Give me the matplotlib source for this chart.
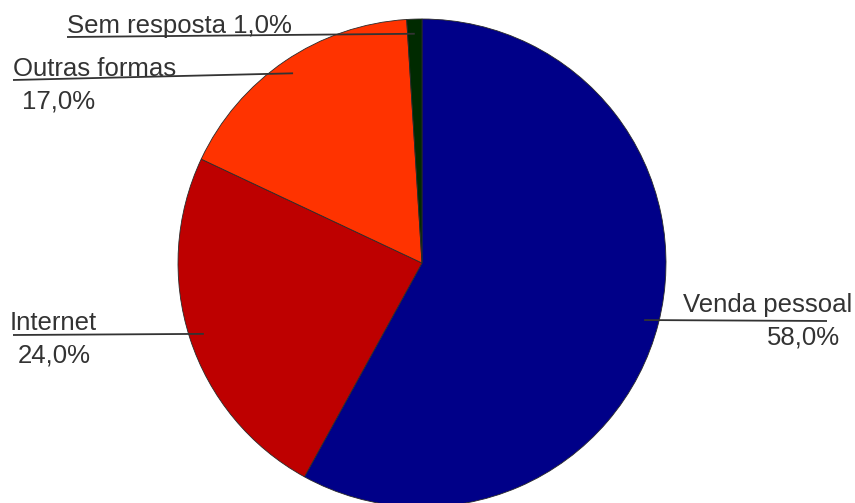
import numpy as np
import matplotlib
matplotlib.use("Agg")
import matplotlib.pyplot as plt

plt.rcParams["font.family"] = ["Liberation Sans", "DejaVu Sans"]

# Share of each sales channel, clockwise from 12 o'clock
categories = ["Venda pessoal", "Internet", "Outras formas", "Sem resposta"]
shares = [58.0, 24.0, 17.0, 1.0]
colors = ["#000088", "#BE0000", "#FF3300", "#002A00"]

W, H = 855, 503
cx, cy, R = 422, H - 263, 244
FS = 18.5

fig = plt.figure(figsize=(W / 100, H / 100), dpi=100)
ax = fig.add_axes([0, 0, 1, 1])

wedges, _ = ax.pie(
    shares,
    colors=colors,
    startangle=90,
    counterclock=False,
    center=(cx, cy),
    radius=R,
    wedgeprops=dict(edgecolor="#2a2a2a", linewidth=0.6),
)
ax.set_xlim(0, W)
ax.set_ylim(0, H)
ax.set_aspect("equal")
ax.axis("off")


def pct(v):
    return f"{v:.1f}%".replace(".", ",")


# label layout in pixels from the top-left: name baseline, value baseline, leader end
layout = {
    "Venda pessoal": dict(tx=683, ty=312, vx=840, vy=345, lx=827, ly=321, vha="right"),
    "Internet": dict(tx=10, ty=330, vx=18, vy=362, lx=13, ly=335, vha="left"),
    "Outras formas": dict(tx=13, ty=76, vx=22, vy=108, lx=13, ly=80, vha="left"),
    "Sem resposta": dict(tx=67, ty=33, vx=None, vy=None, lx=67, ly=37, vha="left"),
}

for w, name, v in zip(wedges, categories, shares):
    mid = np.deg2rad((w.theta1 + w.theta2) / 2)
    px, py = cx + 0.94 * R * np.cos(mid), cy + 0.94 * R * np.sin(mid)
    L = layout[name]
    ax.plot([px, L["lx"]], [py, H - L["ly"]], color="#333333", lw=1.3,
            solid_capstyle="butt")
    if L["vx"] is None:
        ax.text(L["tx"], H - L["ty"], f"{name} {pct(v)}", fontsize=FS,
                color="#333333", ha="left", va="baseline")
    else:
        ax.text(L["tx"], H - L["ty"], name, fontsize=FS, color="#333333",
                ha="left", va="baseline")
        ax.text(L["vx"], H - L["vy"], pct(v), fontsize=FS, color="#333333",
                ha=L["vha"], va="baseline")

fig.savefig("out.png", dpi=100)
